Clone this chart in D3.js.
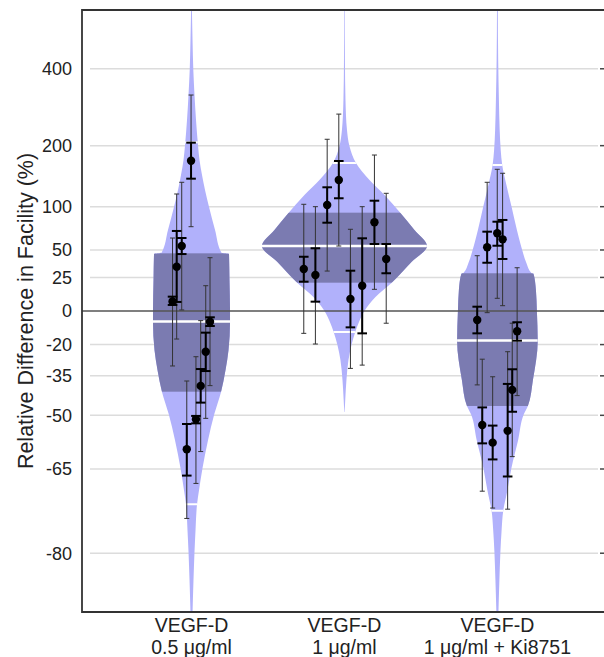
<!DOCTYPE html>
<html>
<head>
<meta charset="utf-8">
<script src="https://cdn.jsdelivr.net/npm/d3@7"></script>
<style>
  body { margin: 0; background: #fff; }
  text { font-family: "Liberation Sans", Arial, Helvetica, sans-serif; fill: #222; }
</style>
</head>
<body>
<svg id="chart" width="604" height="657"></svg>
<script>
// ---- data ----
const groupLabels = [["VEGF-D", "0.5 μg/ml"], ["VEGF-D", "1 μg/ml"], ["VEGF-D", "1 μg/ml + Ki8751"]];
const yTicks = [400, 200, 100, 50, 25, 0, -20, -35, -50, -65, -80];

// violin profiles: [relative difference %, density]
const violin1 = [
  [638.9, 0.007], [505, 0.017], [396, 0.03], [320, 0.05], [255.8, 0.075], [201.3, 0.108],
  [172.7, 0.133], [146.9, 0.175], [123.4, 0.225], [99.6, 0.292], [71.3, 0.392], [47.2, 0.5],
  [46.2, 0.625], [22.9, 0.633], [0, 0.642], [-7.0, 0.642], [-22.8, 0.617], [-32.4, 0.567],
  [-41.6, 0.492], [-49.6, 0.38], [-57.6, 0.275], [-64.8, 0.183], [-69.6, 0.125],
  [-72.3, 0.092], [-76.7, 0.067], [-79.8, 0.05], [-83.3, 0.033], [-86.5, 0.017]
];
const violin2 = [
  [638.9, 0.005], [430, 0.008], [306.3, 0.017], [232.9, 0.042], [199.3, 0.083], [167.4, 0.192],
  [138.8, 0.417], [116.2, 0.667], [91.8, 0.933], [71.3, 1.167], [54.0, 1.375], [38.5, 1.117],
  [20.4, 0.783], [9.7, 0.517], [0, 0.333], [-7.0, 0.242], [-13.0, 0.18], [-20.2, 0.117],
  [-27.8, 0.067], [-36.8, 0.033], [-44.6, 0.013], [-48.9, 0.003]
];
const violin3 = [
  [638.9, 0.007], [430, 0.013], [306.3, 0.025], [232.9, 0.038], [191.5, 0.055], [163.8, 0.08],
  [131, 0.15], [99.6, 0.237], [71.3, 0.325], [60.3, 0.367], [50.0, 0.413], [37.5, 0.483],
  [28.8, 0.567], [28.3, 0.6], [15.0, 0.642], [0, 0.658], [-18.0, 0.672], [-36.8, 0.592],
  [-46.8, 0.508], [-49.6, 0.442], [-57.6, 0.345], [-64.8, 0.233], [-69.6, 0.167],
  [-73.5, 0.097], [-76.7, 0.07], [-79.8, 0.05], [-83.3, 0.033], [-86.5, 0.017]
];
const violins = [violin1, violin2, violin3];

// group summaries (%): median, 50% interval, 95% interval
const medians = [-6.7, 54.0, -17.8];
const innerLo = [-41.5, 20.7, -46.8];
const innerHi = [46.7, 92.2, 28.5];
const outerLo = [-72.3, -13.0, -73.5];
const outerHi = [207, 167.4, 163.8];

// samples: [jitter, estimate, inner lo, inner hi, outer lo, outer hi]
const samples1 = [
  [-0.124, 6.5, 4.1, 10.0, -30.6, 62.4],
  [-0.097, 34.2, 6.2, 70.2, -17.0, 117.6],
  [-0.064, 54.0, 46.0, 62.4, 0.7, 135.2],
  [-0.003, 171.5, 140.9, 206.0, 75.1, 320],
  [0.121, -6.9, -9.5, -4.1, -39.1, 42.5],
  [0.093, -23.7, -32.9, -13.4, -51.0, 18.3],
  [0.060, -39.2, -45.6, -32.0, -60.7, -6.2],
  [0.029, -51.3, -52.6, -50.2, -68.2, -26.2],
  [-0.031, -60.1, -66.5, -52.8, -74.8, -37.2]
];
const samples2 = [
  [-0.266, 32.2, 21.5, 43.4, -13.8, 103.2],
  [-0.190, 27.0, 6.4, 51.7, -19.7, 100],
  [-0.113, 102.3, 79.8, 127.5, 30.4, 213],
  [-0.037, 138.8, 111.5, 170.9, 54.0, 270],
  [0.039, 8.3, -10.3, 30.7, -31.7, 72.1],
  [0.116, 18.3, -13.8, 62.1, -30.2, 100],
  [0.196, 80.3, 56.1, 108.1, 15.5, 181.9],
  [0.273, 41.3, 28.5, 56.1, -7.8, 118.6]
];
const samples3 = [
  [-0.132, -5.8, -13.8, 2.9, -38.8, 44.4],
  [-0.067, 52.7, 37.8, 69.4, -1.1, 135.2],
  [-0.001, 67.6, 54.3, 81.0, 8.8, 156.4],
  [0.034, 61.0, 41.3, 83.1, 3.6, 149.7],
  [0.129, -12.6, -17.9, -7.2, -43.0, 33.3],
  [0.097, -40.8, -48.8, -32.1, -62.0, -7.8],
  [0.067, -54.9, -66.7, -38.4, -73.2, -23.7],
  [-0.099, -53.1, -58.5, -47.3, -69.8, -27.4],
  [-0.031, -58.3, -62.7, -53.3, -73.0, -35.4]
];
const samples = [samples1, samples2, samples3];

// ---- layout ----
const plotLeft = 82, plotRight = 606, plotTop = 10, plotBottom = 612;
const lightFill = "#b1b1fb";
const darkFill = "#7b7bb1";

const svg = d3.select("#chart");
const defs = svg.append("defs");

const x = d3.scaleLinear().domain([0.284, 3.71]).range([plotLeft, plotRight]);
// log-ratio axis: position by log(1 + pct/100)
const yLog = d3.scaleLog().domain([Math.exp(-2), Math.exp(2)]).range([plotBottom, plotTop]);
const y = v => yLog(1 + v / 100);
const w = d3.scaleLinear().domain([0, 1]).range([0, 60]);

defs.append("clipPath").attr("id", "plot-area")
  .append("rect")
  .attr("x", plotLeft).attr("y", plotTop)
  .attr("width", plotRight - plotLeft).attr("height", plotBottom - plotTop);

// gridlines
svg.append("g")
  .selectAll("line")
  .data(yTicks.filter(t => t !== 0))
  .join("line")
  .attr("x1", 90).attr("x2", 598)
  .attr("y1", d => y(d)).attr("y2", d => y(d))
  .attr("stroke", "#dcdcdc")
  .attr("stroke-width", 1.5);

const plotG = svg.append("g").attr("clip-path", "url(#plot-area)");

// violins
violins.forEach((prof, i) => {
  const cx = x(i + 1);
  const area = d3.area()
    .y(d => y(d[0]))
    .x0(d => cx - w(d[1]))
    .x1(d => cx + w(d[1]))
    .curve(d3.curveMonotoneY);
  const id = `violin-clip-${i}`;
  defs.append("clipPath").attr("id", id).append("path").attr("d", area(prof));

  plotG.append("path").attr("d", area(prof)).attr("fill", lightFill);

  const inner = plotG.append("g").attr("clip-path", `url(#${id})`);
  inner.append("rect")
    .attr("x", cx - 120).attr("width", 240)
    .attr("y", y(innerHi[i]))
    .attr("height", y(innerLo[i]) - y(innerHi[i]))
    .attr("fill", darkFill);

  // median
  inner.append("line")
    .attr("x1", cx - 120).attr("x2", cx + 120)
    .attr("y1", y(medians[i])).attr("y2", y(medians[i]))
    .attr("stroke", "#fff").attr("stroke-width", 2.5);

  // 95% bounds
  inner.selectAll("line.bound")
    .data([outerLo[i], outerHi[i]])
    .join("line")
    .attr("class", "bound")
    .attr("x1", cx - 120).attr("x2", cx + 120)
    .attr("y1", d => y(d)).attr("y2", d => y(d))
    .attr("stroke", "#fff").attr("stroke-width", 2);
});

// zero line
svg.append("line")
  .attr("x1", plotLeft).attr("x2", plotRight)
  .attr("y1", y(0)).attr("y2", y(0))
  .attr("stroke", "#555").attr("stroke-width", 1.5);

// error bars and points
samples.forEach((pts, i) => {
  const g = svg.append("g");
  pts.forEach(p => {
    const px = x(i + 1 + p[0]);
    // outer (thin)
    g.append("line")
      .attr("x1", px).attr("x2", px)
      .attr("y1", y(p[4])).attr("y2", y(p[5]))
      .attr("stroke", "#333").attr("stroke-width", 1);
    [p[4], p[5]].forEach(v => {
      g.append("line")
        .attr("x1", px - 2.5).attr("x2", px + 2.5)
        .attr("y1", y(v)).attr("y2", y(v))
        .attr("stroke", "#333").attr("stroke-width", 1);
    });
  });
  pts.forEach(p => {
    const px = x(i + 1 + p[0]);
    // inner (thick)
    g.append("line")
      .attr("x1", px).attr("x2", px)
      .attr("y1", y(p[2])).attr("y2", y(p[3]))
      .attr("stroke", "#000").attr("stroke-width", 2);
    [p[2], p[3]].forEach(v => {
      g.append("line")
        .attr("x1", px - 4.8).attr("x2", px + 4.8)
        .attr("y1", y(v)).attr("y2", y(v))
        .attr("stroke", "#000").attr("stroke-width", 2);
    });
    g.append("circle")
      .attr("cx", px).attr("cy", y(p[1]))
      .attr("r", 4.2)
      .attr("fill", "#000");
  });
});

// frame
svg.append("path")
  .attr("d", `M${plotRight},${plotTop}H${plotLeft}V${plotBottom}H${plotRight}`)
  .attr("fill", "none")
  .attr("stroke", "#333")
  .attr("stroke-width", 1.8);

// right-side ticks
svg.append("g")
  .selectAll("line")
  .data(yTicks)
  .join("line")
  .attr("x1", 600).attr("x2", plotRight)
  .attr("y1", d => y(d)).attr("y2", d => y(d))
  .attr("stroke", "#444").attr("stroke-width", 1.5);

// tick labels
svg.append("g")
  .selectAll("text")
  .data(yTicks)
  .join("text")
  .attr("x", 72)
  .attr("y", d => y(d))
  .attr("dy", "0.35em")
  .attr("text-anchor", "end")
  .attr("font-size", 18)
  .text(d => d);

// category labels
const xl = svg.append("g");
groupLabels.forEach((lines, i) => {
  const t = xl.append("text")
    .attr("text-anchor", "middle")
    .attr("font-size", 19.5);
  lines.forEach((s, k) => {
    t.append("tspan")
      .attr("x", x(i + 1))
      .attr("y", 632 + k * 22)
      .text(s);
  });
});

// y title
svg.append("text")
  .attr("transform", "translate(33,311) rotate(-90)")
  .attr("text-anchor", "middle")
  .attr("font-size", 21.5)
  .text("Relative Difference in Facility (%)");
</script>
</body>
</html>
